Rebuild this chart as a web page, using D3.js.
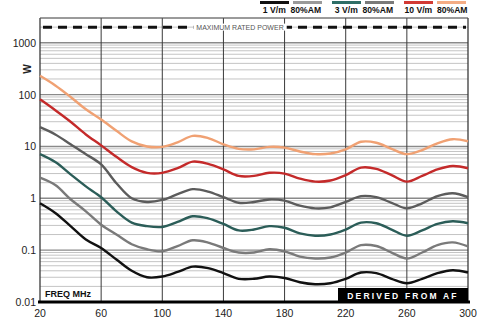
<!DOCTYPE html>
<html>
<head>
<meta charset="utf-8">
<script src="https://cdn.jsdelivr.net/npm/d3@7"></script>
<style>
  body { margin: 0; background: #fff; }
  svg { font-family: "Liberation Sans", Arial, sans-serif; }
</style>
</head>
<body>
<div id="chart"></div>
<script>
// frequencies (MHz) shared by every curve
const freqs = [20, 30, 40, 50, 60, 70, 80, 90, 100, 110, 120, 130, 140, 150, 160,
  170, 180, 190, 200, 210, 220, 230, 240, 250, 260, 270, 280, 290, 300];

// power (W), lowest curve first
const black1 = [0.80, 0.52, 0.29, 0.16, 0.11, 0.066, 0.040, 0.030, 0.031, 0.038, 0.048, 0.045, 0.036, 0.028, 0.028,
  0.031, 0.029, 0.024, 0.022, 0.023, 0.028, 0.037, 0.036, 0.028, 0.023, 0.028, 0.036, 0.041, 0.037];
const gray1 = [2.5, 1.8, 0.96, 0.56, 0.31, 0.20, 0.13, 0.104, 0.095, 0.12, 0.155, 0.14, 0.11, 0.09, 0.09,
  0.104, 0.095, 0.075, 0.069, 0.072, 0.09, 0.125, 0.12, 0.09, 0.069, 0.09, 0.125, 0.141, 0.118];
const teal3 = [7.1, 5.0, 2.9, 1.7, 1.05, 0.56, 0.34, 0.29, 0.28, 0.35, 0.45, 0.41, 0.32, 0.24, 0.25,
  0.29, 0.27, 0.21, 0.19, 0.20, 0.25, 0.34, 0.33, 0.25, 0.19, 0.24, 0.32, 0.36, 0.33];
const gray3 = [23.5, 17, 11, 7.1, 4.5, 1.95, 1.0, 0.85, 0.93, 1.2, 1.5, 1.35, 1.05, 0.82, 0.85,
  0.95, 0.9, 0.72, 0.64, 0.67, 0.85, 1.1, 1.05, 0.82, 0.64, 0.8, 1.1, 1.25, 1.05];
const red10 = [81, 50, 30, 17, 10.5, 6.3, 4.0, 3.1, 3.1, 3.8, 5.1, 4.6, 3.6, 2.7, 2.7,
  3.1, 3.0, 2.4, 2.1, 2.2, 2.8, 3.9, 3.7, 2.8, 2.1, 2.7, 3.6, 4.2, 3.8];
const orange10 = [230, 150, 90, 52, 33, 20, 12.5, 10, 9.8, 12, 16, 14.5, 11, 9, 8.8,
  9.8, 9.5, 8, 7.1, 7.3, 8.8, 12.3, 11.8, 9, 7.1, 8.5, 11.5, 13.8, 12.6];

const legendLabels = ["1 V/m  80%AM", "3 V/m  80%AM", "10 V/m  80%AM"];
const xTicks = [20, 60, 100, 140, 180, 220, 260, 300];
const yTicks = [0.01, 0.1, 1, 10, 100, 1000];
const maxPower = 2000;

const width = 477, height = 325;
const margin = {top: 18, right: 9, bottom: 23, left: 40};

const svg = d3.select("#chart").append("svg")
  .attr("width", width)
  .attr("height", height);

const x = d3.scaleLinear().domain([20, 300]).range([margin.left, width - margin.right]);
const y = d3.scaleLog().domain([0.01, 3000]).range([height - margin.bottom, margin.top]);

const colors = ["#111", "#7a7a7a", "#2b5d58", "#5c5c5c", "#c42a2a", "#f0a173"];
const legendColors = ["#111", "#9a9a9a", "#2f6e66", "#7a7a7a", "#d23a34", "#f4ad86"];
const allSeries = [black1, gray1, teal3, gray3, red10, orange10];

// horizontal grid: minor lines every 1..9 per decade
const minor = [];
for (let e = -2; e <= 3; e++) {
  for (let m = 1; m <= 9; m++) {
    const v = m * Math.pow(10, e);
    if (v <= 3000) minor.push(v);
  }
}
svg.append("g").selectAll("line")
  .data(minor)
  .join("line")
  .attr("x1", x(20)).attr("x2", x(300))
  .attr("y1", d => y(d)).attr("y2", d => y(d))
  .attr("stroke", d => yTicks.includes(d) ? "#8a8a8a" : "#c4c4c4")
  .attr("stroke-width", d => yTicks.includes(d) ? 1.4 : 1);

// vertical grid
svg.append("g").selectAll("line")
  .data(xTicks)
  .join("line")
  .attr("x1", d => x(d)).attr("x2", d => x(d))
  .attr("y1", y(3000)).attr("y2", y(0.01))
  .attr("stroke", "#3a3a3a")
  .attr("stroke-width", d => (d === 20 || d === 300) ? 1.3 : 1);

// top frame
svg.append("line")
  .attr("x1", x(20)).attr("x2", x(300))
  .attr("y1", y(3000)).attr("y2", y(3000))
  .attr("stroke", "#555").attr("stroke-width", 1);

// maximum rated power
svg.append("line")
  .attr("x1", x(20) + 3).attr("x2", x(300) - 2)
  .attr("y1", y(maxPower)).attr("y2", y(maxPower))
  .attr("stroke", "#111").attr("stroke-width", 3)
  .attr("stroke-dasharray", "9,6");
const mrp = svg.append("text")
  .attr("x", 240).attr("y", y(maxPower) + 2.5)
  .attr("text-anchor", "middle")
  .attr("font-size", 7)
  .attr("fill", "#555")
  .text("MAXIMUM RATED POWER");
const bb = mrp.node().getBBox();
svg.insert("rect", "text")
  .attr("x", bb.x - 3).attr("y", bb.y)
  .attr("width", bb.width + 6).attr("height", bb.height)
  .attr("fill", "#fff");

// curves
const line = d3.line()
  .x((d, i) => x(freqs[i]))
  .y(d => y(d))
  .curve(d3.curveCatmullRom.alpha(0.5));

svg.append("g").selectAll("path")
  .data(allSeries)
  .join("path")
  .attr("d", d => line(d))
  .attr("fill", "none")
  .attr("stroke", (d, i) => colors[i])
  .attr("stroke-width", 2.4)
  .attr("stroke-linejoin", "round");

// bottom axis line
svg.append("line")
  .attr("x1", x(20) - 2).attr("x2", x(300) + 2)
  .attr("y1", y(0.01)).attr("y2", y(0.01))
  .attr("stroke", "#000").attr("stroke-width", 3);

// tick labels
svg.append("g").selectAll("text")
  .data(xTicks)
  .join("text")
  .attr("x", d => x(d)).attr("y", y(0.01) + 15)
  .attr("text-anchor", "middle")
  .attr("font-size", 10.5)
  .attr("fill", "#222")
  .text(d => d);

svg.append("g").selectAll("text")
  .data(yTicks)
  .join("text")
  .attr("x", margin.left - 4).attr("y", d => y(d) + 4)
  .attr("text-anchor", "end")
  .attr("font-size", 10.5)
  .attr("fill", "#222")
  .text(d => d);

// unit label
svg.append("text")
  .attr("transform", `translate(31, 69) rotate(-90)`)
  .attr("text-anchor", "middle")
  .attr("font-size", 10)
  .attr("font-weight", "bold")
  .attr("fill", "#222")
  .text("W");

// FREQ MHz
svg.append("text")
  .attr("x", x(20) + 5).attr("y", y(0.01) - 5)
  .attr("font-size", 9)
  .attr("font-weight", "bold")
  .attr("fill", "#111")
  .text("FREQ  MHz");

// derived from AF box
svg.append("rect")
  .attr("x", 338).attr("y", 288)
  .attr("width", x(300) - 338).attr("height", y(0.01) - 288)
  .attr("fill", "#000");
svg.append("text")
  .attr("x", (338 + x(300)) / 2).attr("y", 298.5)
  .attr("text-anchor", "middle")
  .attr("font-size", 8.5)
  .attr("font-weight", "bold")
  .attr("letter-spacing", 2.2)
  .attr("fill", "#fff")
  .text("DERIVED FROM AF");

// legend
const legendX = [260, 332, 404];
const lg = svg.append("g");
legendLabels.forEach((lab, k) => {
  const x0 = legendX[k];
  lg.append("line")
    .attr("x1", x0).attr("x2", x0 + 29)
    .attr("y1", 2.5).attr("y2", 2.5)
    .attr("stroke", legendColors[2 * k]).attr("stroke-width", 3);
  lg.append("line")
    .attr("x1", x0 + 33).attr("x2", x0 + 62)
    .attr("y1", 2.5).attr("y2", 2.5)
    .attr("stroke", legendColors[2 * k + 1]).attr("stroke-width", 3);
  lg.append("text")
    .attr("x", x0 + 32).attr("y", 13)
    .attr("text-anchor", "middle")
    .attr("font-size", 8.6)
    .attr("font-weight", "bold")
    .attr("fill", "#111")
    .attr("xml:space", "preserve")
    .text(lab);
});
</script>
</body>
</html>
